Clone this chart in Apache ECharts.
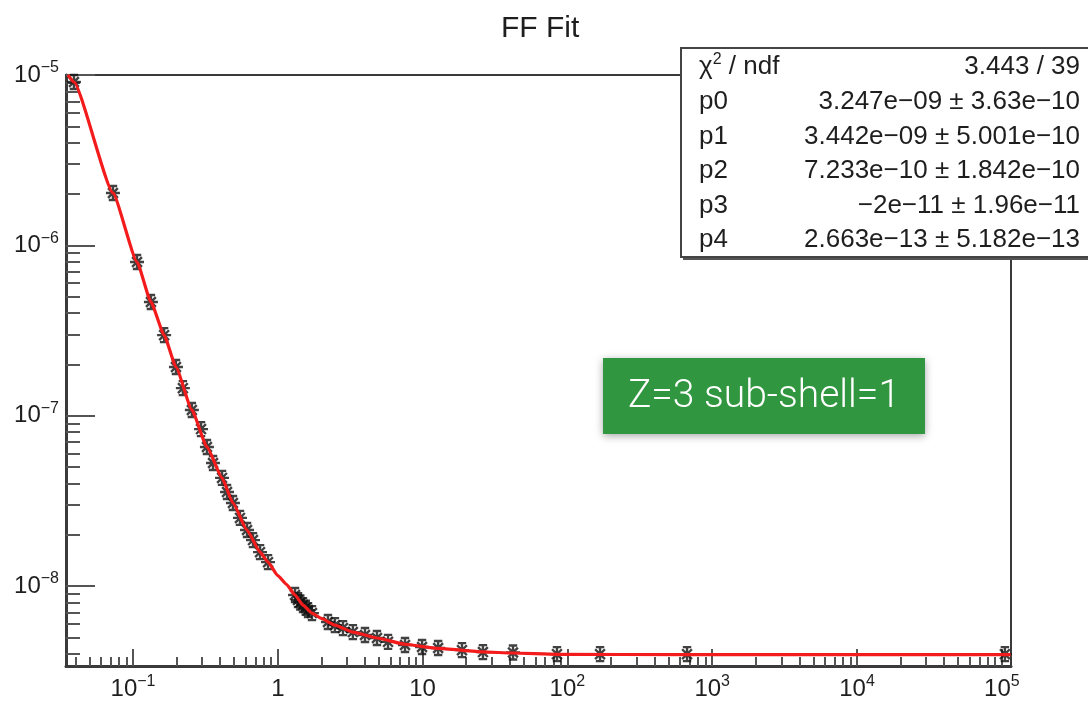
<!DOCTYPE html>
<html><head><meta charset="utf-8">
<script src="https://cdn.jsdelivr.net/npm/echarts@6/dist/echarts.min.js"></script>
<style>html,body{margin:0;padding:0;background:#fff}#c{width:1088px;height:703px}</style>
</head><body><div id="c"></div>
<script>
// ---- data ----
const xVals = [0.0391, 0.0727, 0.1066, 0.133, 0.164, 0.198, 0.221, 0.255, 0.295, 0.324, 0.357, 0.412, 0.446, 0.490, 0.548, 0.613, 0.674, 0.754, 0.856,
  1.315, 1.379, 1.43, 1.493, 1.56, 1.617, 1.722, 2.22, 2.48, 2.82, 3.30, 4.00, 4.84, 5.77, 7.56, 9.91, 12.8, 18.7, 26.1, 42.1, 84.7, 168, 670, 105000];
const yVals = [9.1e-6, 2.03e-6, 7.98e-7, 4.65e-7, 2.97e-7, 1.93e-7, 1.45e-7, 1.08e-7, 8.34e-8, 6.55e-8, 5.27e-8, 4.31e-8, 3.56e-8, 3.07e-8, 2.51e-8, 2.13e-8, 1.86e-8, 1.58e-8, 1.38e-8,
  8.85e-9, 8.26e-9, 8.0e-9, 7.72e-9, 7.45e-9, 7.22e-9, 6.93e-9, 6.14e-9, 5.89e-9, 5.66e-9, 5.36e-9, 5.15e-9, 4.95e-9, 4.70e-9, 4.50e-9, 4.38e-9, 4.32e-9, 4.20e-9, 4.09e-9, 4.07e-9, 3.98e-9, 3.98e-9, 3.98e-9, 3.98e-9];
const fitX = [0.0355, 0.0391, 0.0727, 0.1066, 0.133, 0.164, 0.198, 0.255, 0.324, 0.412, 0.490, 0.613, 0.754, 0.856, 1.0, 1.15, 1.315, 1.493, 1.722, 2.0, 2.48, 3.30, 4.84, 7.56, 12.8, 26.1, 42.1, 84.7, 670, 115000];
const fitY = [1.0e-5, 9.1e-6, 2.03e-6, 7.98e-7, 4.65e-7, 2.97e-7, 1.93e-7, 1.08e-7, 6.55e-8, 4.31e-8, 3.07e-8, 2.13e-8, 1.58e-8, 1.38e-8, 1.15e-8, 1.02e-8, 8.85e-9, 7.72e-9, 6.93e-9, 6.45e-9, 5.89e-9, 5.36e-9, 4.95e-9, 4.55e-9, 4.30e-9, 4.10e-9, 4.04e-9, 3.97e-9, 3.95e-9, 3.95e-9];

const xMajor = [0.1, 1, 10, 100, 1000, 10000, 100000];
const xLabelBase = ['10', '1', '10', '10', '10', '10', '10'];
const xLabelExp  = ['\u22121', '', '', '2', '3', '4', '5'];
const yMajor = [1e-8, 1e-7, 1e-6, 1e-5];
const yLabelBase = ['10', '10', '10', '10'];
const yLabelExp  = ['\u22128', '\u22127', '\u22126', '\u22125'];

const titleText = 'FF Fit';
const statNames = ['{a|\u03c7}{s|2}{a| / ndf}', 'p0', 'p1', 'p2', 'p3', 'p4'];
const statValues = ['3.443 / 39', '3.247e\u221209 \u00b1 3.63e\u221210', '3.442e\u221209 \u00b1 5.001e\u221210',
  '7.233e\u221210 \u00b1 1.842e\u221210', '\u22122e\u221211 \u00b1 1.96e\u221211', '2.663e\u221213 \u00b1 5.182e\u221213'];
const noteText = 'Z=3 sub-shell=1';

const X_MIN = 0.03446, X_MAX = 115700, Y_MIN = 3.39e-9, Y_MAX = 1e-5;

// minor tick positions (2..9 x decade)
function minors(d0, d1, lo, hi) {
  const out = [];
  for (let d = d0; d <= d1; d++) for (let m = 2; m <= 9; m++) {
    const v = m * Math.pow(10, d);
    if (v > lo && v < hi) out.push(v);
  }
  return out;
}
const xMinor = minors(-2, 5, X_MIN, X_MAX);
const yMinor = minors(-9, -6, Y_MIN, Y_MAX);

const FONT = "'Liberation Sans', Arial, Helvetica, sans-serif";
const INK = '#1e1e1e';
const FRAME = '#3a3a3a';

function makeFormatter(majors, bases, exps) {
  return function (v) {
    let idx = -1;
    for (let i = 0; i < majors.length; i++) {
      if (Math.abs(Math.log10(v) - Math.log10(majors[i])) < 1e-6) idx = i;
    }
    if (idx < 0) return '';
    return exps[idx] ? '{b|' + bases[idx] + '}{s|' + exps[idx] + '}' : '{b|' + bases[idx] + '}';
  };
}
const labelRich = {
  b: { fontSize: 24, fontFamily: FONT, color: INK, lineHeight: 30 },
  s: { fontSize: 16, fontFamily: FONT, color: INK, lineHeight: 17, verticalAlign: 'top' }
};

const chart = echarts.init(document.getElementById('c'), null, { renderer: 'canvas' });
const scatterData = xVals.map((x, i) => [x, yVals[i]]);
const fitData = fitX.map((x, i) => [x, fitY[i]]);

const statGraphics = [];
const rowY = [67, 102, 137, 171, 206, 240];
statNames.forEach((n, i) => {
  statGraphics.push({
    type: 'text', x: 699, y: rowY[i], z: 102,
    style: { text: n, fill: INK, fontSize: 26, fontFamily: FONT, verticalAlign: 'middle',
      rich: { a: { fontSize: 26, fontFamily: FONT, fill: INK, lineHeight: 30 },
              s: { fontSize: 16, fontFamily: FONT, fill: INK, lineHeight: 16, verticalAlign: 'top' } } }
  });
  statGraphics.push({
    type: 'text', z: 102, x: 1080, y: rowY[i],
    style: { text: statValues[i], fill: INK, fontSize: 26, fontFamily: FONT, align: 'right', verticalAlign: 'middle' }
  });
});

chart.setOption({
  animation: false,
  backgroundColor: '#fff',
  title: {
    text: titleText, left: 496, top: 9,
    textStyle: { fontSize: 30, fontWeight: 'normal', fontFamily: FONT, color: INK }
  },
  grid: {
    left: 66, right: 77, top: 75, bottom: 37, containLabel: false,
    show: true, borderColor: FRAME, borderWidth: 2, backgroundColor: 'transparent'
  },
  xAxis: [{
    type: 'log', logBase: 10, min: X_MIN, max: X_MAX, position: 'bottom',
    axisLine: { show: true, onZero: false, lineStyle: { color: FRAME, width: 3 } },
    axisTick: { show: true, inside: true, length: 17, customValues: xMajor, lineStyle: { color: '#555', width: 2 } },
    axisLabel: { show: true, margin: 8, customValues: xMajor, formatter: makeFormatter(xMajor, xLabelBase, xLabelExp), rich: labelRich },
    splitLine: { show: false }, minorTick: { show: false }, minorSplitLine: { show: false }
  }, {
    type: 'log', logBase: 10, min: X_MIN, max: X_MAX, position: 'bottom',
    axisLine: { show: false },
    axisTick: { show: true, inside: true, length: 9, customValues: xMinor, lineStyle: { color: '#555', width: 2 } },
    axisLabel: { show: false }, splitLine: { show: false }
  }],
  yAxis: [{
    type: 'log', logBase: 10, min: Y_MIN, max: Y_MAX, position: 'left',
    axisLine: { show: true, onZero: false, lineStyle: { color: FRAME, width: 3 } },
    axisTick: { show: true, inside: true, length: 29, customValues: yMajor, lineStyle: { color: '#555', width: 2 } },
    axisLabel: { show: true, margin: 7, customValues: yMajor, formatter: makeFormatter(yMajor, yLabelBase, yLabelExp), rich: labelRich },
    splitLine: { show: false }
  }, {
    type: 'log', logBase: 10, min: Y_MIN, max: Y_MAX, position: 'left',
    axisLine: { show: false },
    axisTick: { show: true, inside: true, length: 14, customValues: yMinor, lineStyle: { color: '#555', width: 2 } },
    axisLabel: { show: false }, splitLine: { show: false }
  }],
  series: [{
    type: 'scatter', xAxisIndex: 0, yAxisIndex: 0, data: scatterData, z: 2,
    symbol: 'path://M0,5L10,5M5,0L5,10M1.5,1.5L8.5,8.5M8.5,1.5L1.5,8.5M2,0L8,0M2,10L8,10',
    symbolSize: 14,
    itemStyle: { color: '#111', borderColor: '#111', borderWidth: 2.4 },
    emphasis: { disabled: true }
  }, {
    type: 'line', xAxisIndex: 0, yAxisIndex: 0, data: fitData, z: 3,
    showSymbol: false, smooth: 0.15, smoothMonotone: 'x', clip: true,
    lineStyle: { color: '#f31b1b', width: 3.2 },
    emphasis: { disabled: true }
  }],
  graphic: [
    { type: 'rect', z: 100, shape: { x: 683, y: 51, width: 420, height: 209 }, style: { fill: '#555' } },
    { type: 'rect', z: 101, shape: { x: 681, y: 48, width: 420, height: 209 }, style: { fill: '#fff', stroke: '#444', lineWidth: 2 } },
    ...statGraphics,
    { type: 'rect', z: 110, shape: { x: 603, y: 358, width: 322, height: 76 },
      style: { fill: '#30963f', shadowBlur: 8, shadowColor: 'rgba(0,0,0,0.35)', shadowOffsetY: 2 } },
    { type: 'text', z: 111, x: 764, y: 397,
      style: { text: noteText, fill: '#fff', font: '300 39px Roboto, "Open Sans", sans-serif', align: 'center', verticalAlign: 'middle' } }
  ]
});
</script></body></html>
